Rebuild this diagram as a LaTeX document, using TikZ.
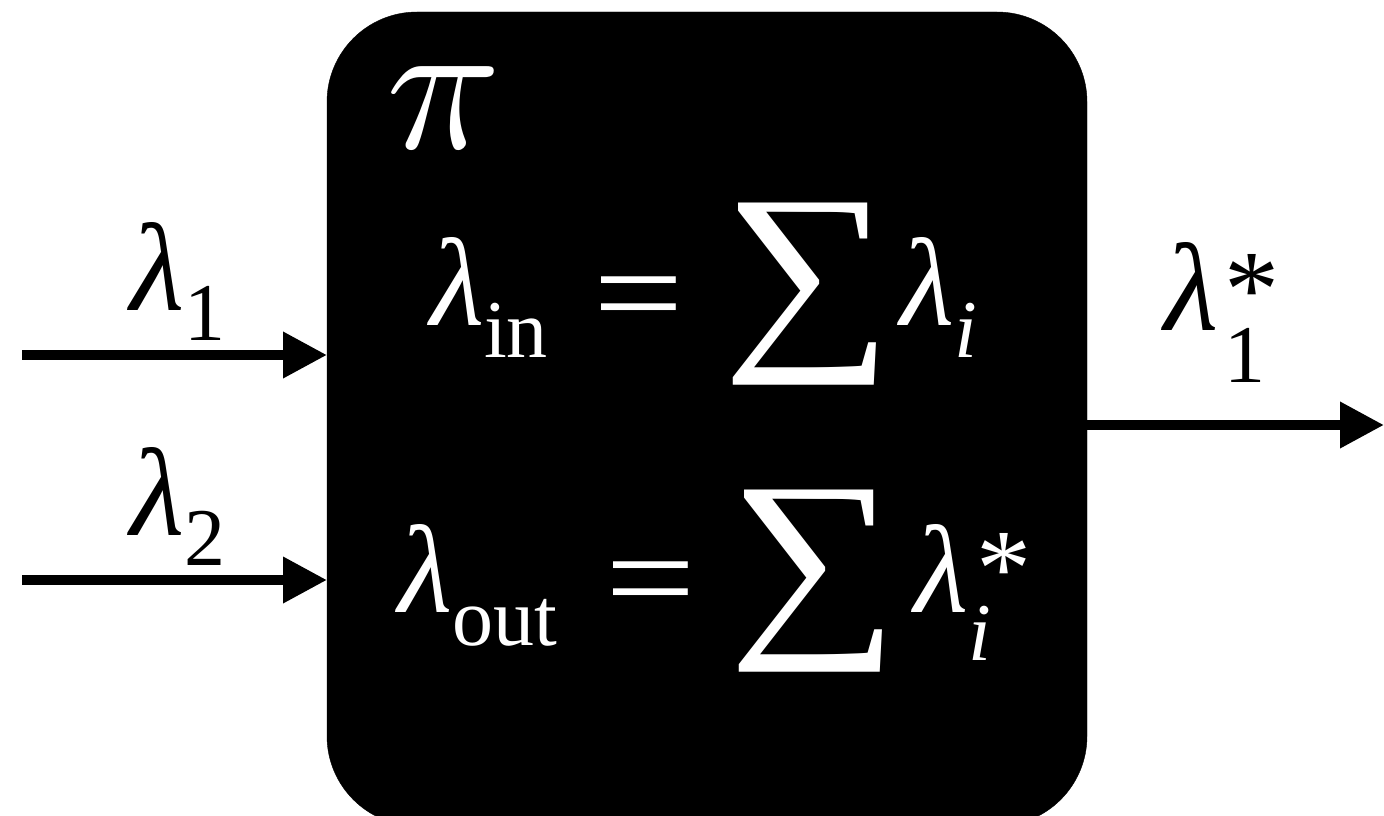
\documentclass[tikz,border=0pt]{standalone}
\usepackage{fontspec}
\setmainfont{Liberation Serif}
\usetikzlibrary{arrows.meta}
\newcommand{\bigF}{\fontsize{125}{130}\selectfont}
\newcommand{\subF}{\fontsize{82}{90}\selectfont}
\newcommand{\astF}{\fontsize{110}{120}\selectfont}
\newcommand{\sumF}{\fontsize{210}{220}\selectfont}
\newcommand{\eqF}{\fontsize{135}{140}\selectfont}
\newcommand{\lam}{{\itshape λ}}
\tikzset{
  arr/.style={line width=10pt, -{Triangle[length=44pt,width=44pt]}},
  lbl/.style={anchor=base west, inner sep=0pt, outer sep=0pt},
  wlbl/.style={lbl, text=white},
  blackbox/.style={fill=black, draw=black, rounded corners=90pt}
}
\begin{document}
\begin{tikzpicture}[x=1pt,y=-1pt]
\useasboundingbox (0,0) rectangle (1384,816);
% box
\draw[blackbox] (327,12) rectangle (1087,826);
\coordinate (bw1) at (327,355);
\coordinate (bw2) at (327,580);
\coordinate (be) at (1087,425);
\coordinate (s1) at (22,355);
\coordinate (s2) at (22,580);
\coordinate (t1) at (1384,425);
\draw[arr] (s1) -- (bw1);
\draw[arr] (s2) -- (bw2);
\draw[arr] (be) -- (t1);
% input labels
\node[lbl] (l1) at (130,310) {\bigF\lam\raisebox{-30pt}{\subF 1}};
\node[lbl] (l2) at (130,535) {\bigF\lam\raisebox{-30pt}{\subF 2}};
% output label
\node[lbl] (lo) at (1164,330) {\bigF\lam\hspace{6pt}\rlap{\raisebox{-52pt}{\subF 1}}\raisebox{4pt}{\astF *}};
% inside
\node[wlbl] (pi) at (386,148) {\scalebox{19}{\fontsize{10}{12}\selectfont$\pi$}};
\node[wlbl] (lin) at (430,325) {\bigF\lam\raisebox{-32pt}{\subF in}};
\node[wlbl] (eq1) at (593,338) {\eqF\scalebox{1.19}[1]{=}};
\node[wlbl] (sum1) at (722,340) {\sumF\scalebox{1.14}[1]{∑}};
\node[wlbl] (li) at (900,325) {\bigF\lam\raisebox{-32pt}{\subF\itshape i}};
\node[wlbl] (lout) at (398,612) {\bigF\lam\raisebox{-33pt}{\subF out}};
\node[wlbl] (eq2) at (605,623) {\eqF\scalebox{1.19}[1]{=}};
\node[wlbl] (sum2) at (728,627) {\sumF\scalebox{1.14}[1]{∑}};
\node[wlbl] (lis) at (914,612) {\bigF\lam\rlap{\raisebox{-48pt}{\subF\itshape i}}\hspace{8pt}\raisebox{7pt}{\astF *}};
\end{tikzpicture}
\end{document}
